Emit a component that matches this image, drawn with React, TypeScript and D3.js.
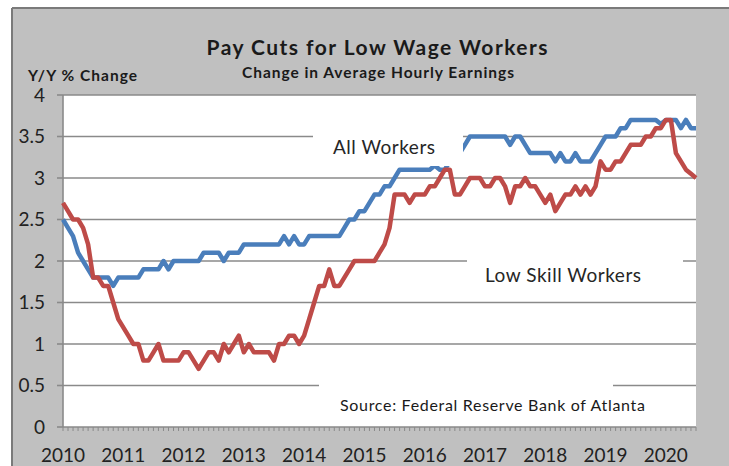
import React from "react";
import * as d3 from "d3";

// Monthly Y/Y % change, Jan 2010 – Jul 2020
const startYear = 2010;
const allWorkers = [
  2.5, 2.4, 2.3, 2.1, 2.0, 1.9, 1.8, 1.8, 1.8, 1.8, 1.7, 1.8, // 2010
  1.8, 1.8, 1.8, 1.8, 1.9, 1.9, 1.9, 1.9, 2.0, 1.9, 2.0, 2.0, // 2011
  2.0, 2.0, 2.0, 2.0, 2.1, 2.1, 2.1, 2.1, 2.0, 2.1, 2.1, 2.1, // 2012
  2.2, 2.2, 2.2, 2.2, 2.2, 2.2, 2.2, 2.2, 2.3, 2.2, 2.3, 2.2, // 2013
  2.2, 2.3, 2.3, 2.3, 2.3, 2.3, 2.3, 2.3, 2.4, 2.5, 2.5, 2.6, // 2014
  2.6, 2.7, 2.8, 2.8, 2.9, 2.9, 3.0, 3.1, 3.1, 3.1, 3.1, 3.1, // 2015
  3.1, 3.1, 3.15, 3.1, 3.1, 3.2, 3.2, 3.3, 3.4, 3.5, 3.5, 3.5, // 2016
  3.5, 3.5, 3.5, 3.5, 3.5, 3.4, 3.5, 3.5, 3.4, 3.3, 3.3, 3.3, // 2017
  3.3, 3.3, 3.2, 3.3, 3.2, 3.2, 3.3, 3.2, 3.2, 3.2, 3.3, 3.4, // 2018
  3.5, 3.5, 3.5, 3.6, 3.6, 3.7, 3.7, 3.7, 3.7, 3.7, 3.7, 3.65, // 2019
  3.7, 3.7, 3.7, 3.6, 3.7, 3.6, 3.6, // 2020
];
const lowSkill = [
  2.7, 2.6, 2.5, 2.5, 2.4, 2.2, 1.8, 1.8, 1.7, 1.7, 1.5, 1.3, // 2010
  1.2, 1.1, 1.0, 1.0, 0.8, 0.8, 0.9, 1.0, 0.8, 0.8, 0.8, 0.8, // 2011
  0.9, 0.9, 0.8, 0.7, 0.8, 0.9, 0.9, 0.8, 1.0, 0.9, 1.0, 1.1, // 2012
  0.9, 1.0, 0.9, 0.9, 0.9, 0.9, 0.8, 1.0, 1.0, 1.1, 1.1, 1.0, // 2013
  1.1, 1.3, 1.5, 1.7, 1.7, 1.9, 1.7, 1.7, 1.8, 1.9, 2.0, 2.0, // 2014
  2.0, 2.0, 2.0, 2.1, 2.2, 2.4, 2.8, 2.8, 2.8, 2.7, 2.8, 2.8, // 2015
  2.8, 2.9, 2.9, 3.0, 3.1, 3.1, 2.8, 2.8, 2.9, 3.0, 3.0, 3.0, // 2016
  2.9, 2.9, 3.0, 3.0, 2.9, 2.7, 2.9, 2.9, 3.0, 2.9, 2.9, 2.8, // 2017
  2.7, 2.8, 2.6, 2.7, 2.8, 2.8, 2.9, 2.8, 2.9, 2.8, 2.9, 3.2, // 2018
  3.1, 3.1, 3.2, 3.2, 3.3, 3.4, 3.4, 3.4, 3.5, 3.5, 3.6, 3.6, // 2019
  3.7, 3.7, 3.3, 3.2, 3.1, 3.05, 3.0, // 2020
];
const yearLabels = ["2010", "2011", "2012", "2013", "2014", "2015", "2016", "2017", "2018", "2019", "2020"];
const yTicks = [0, 0.5, 1, 1.5, 2, 2.5, 3, 3.5, 4];

const title = "Pay Cuts for Low Wage Workers";
const subtitle = "Change in Average Hourly Earnings";
const yAxisTitle = "Y/Y % Change";
const allLabel = "All Workers";
const lowLabel = "Low Skill Workers";
const sourceLabel = "Source: Federal Reserve Bank of Atlanta";

const W = 729;
const H = 466;
const FONT = "Lato, 'Open Sans', sans-serif";

export default function App() {
  const n = allWorkers.length;
  const x = d3.scaleLinear().domain([0, n - 1]).range([63, 696]);
  const y = d3.scaleLinear().domain([0, 4]).range([427, 95]);
  const line = d3
    .line<number>()
    .x((_, i) => x(i))
    .y((d) => y(d))
    .curve(d3.curveLinear);

  const grid = "#8a8a8a";
  const months = d3.range(n);

  return (
    <svg
      width={W}
      height={H}
      style={{ position: "absolute", left: 0, top: 0, display: "block" }}
      fontFamily={FONT}
    >
      <rect x={0} y={0} width={W} height={H} fill="#ffffff" />
      <rect x={12} y={8} width={W - 12} height={H - 8} fill="#c0c0c0" />
      <line x1={12} y1={8} x2={W} y2={8} stroke="#7a7a7a" strokeWidth={2} />
      <line x1={12} y1={8} x2={12} y2={H} stroke="#7a7a7a" strokeWidth={2} />

      {/* titles */}
      <text x={377} y={55} textAnchor="middle" fontSize={21} fontWeight="bold" fill="#1a1a1a" textLength={341}>
        {title}
      </text>
      <text x={378} y={78} textAnchor="middle" fontSize={15.5} fontWeight="bold" fill="#1a1a1a" textLength={272}>
        {subtitle}
      </text>
      <text x={28} y={81} fontSize={15.5} fontWeight="bold" fill="#1a1a1a" textLength={109}>
        {yAxisTitle}
      </text>

      {/* plot area */}
      <rect x={x(0)} y={y(4)} width={x(n - 1) - x(0)} height={y(0) - y(4)} fill="#ffffff" />
      {yTicks
        .filter((t) => t > 0)
        .map((t) => (
          <line key={"g" + t} x1={x(0)} x2={x(n - 1)} y1={y(t)} y2={y(t)} stroke={grid} strokeWidth={1.6} />
        ))}

      {/* axes */}
      <line x1={x(0)} x2={x(0)} y1={y(4)} y2={y(0)} stroke={grid} strokeWidth={1.6} />
      <line x1={x(0)} x2={x(n - 1)} y1={y(0)} y2={y(0)} stroke={grid} strokeWidth={1.6} />
      {yTicks.map((t) => (
        <g key={"yt" + t}>
          <line x1={57} x2={x(0)} y1={y(t)} y2={y(t)} stroke={grid} strokeWidth={1.6} />
          <text x={45} y={y(t)} dy="0.35em" textAnchor="end" fontSize={19} fill="#222">
            {String(t)}
          </text>
        </g>
      ))}
      {months.map((i) => (
        <line key={"m" + i} x1={x(i)} x2={x(i)} y1={y(0)} y2={y(0) + 4} stroke={grid} strokeWidth={1} />
      ))}
      {yearLabels.map((lab, k) => (
        <text key={lab} x={x(k * 12)} y={462} textAnchor="middle" fontSize={19} fill="#222">
          {lab}
        </text>
      ))}

      {/* series */}
      <path d={line(allWorkers) || ""} fill="none" stroke="#4a7ebb" strokeWidth={4.5} strokeLinejoin="round" />
      <path d={line(lowSkill) || ""} fill="none" stroke="#be4b48" strokeWidth={4.5} strokeLinejoin="round" />

      {/* annotation boxes */}
      <rect x={313} y={118} width={150} height={48} fill="#ffffff" />
      <text x={333} y={154} fontSize={19} fill="#262626" textLength={102}>
        {allLabel}
      </text>
      <rect x={467} y={250} width={216} height={44} fill="#ffffff" />
      <text x={485} y={282} fontSize={19} fill="#262626" textLength={156}>
        {lowLabel}
      </text>
      <rect x={319} y={378} width={294} height={40} fill="#ffffff" />
      <text x={340} y={411} fontSize={16} fill="#1a1a1a" textLength={305}>
        {sourceLabel}
      </text>
    </svg>
  );
}
